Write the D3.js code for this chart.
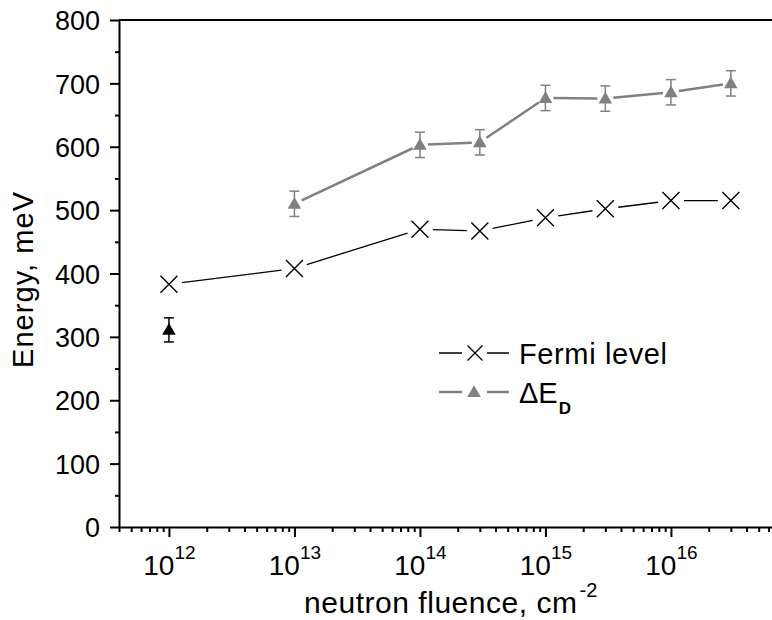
<!DOCTYPE html>
<html>
<head>
<meta charset="utf-8">
<script src="https://cdn.jsdelivr.net/npm/d3@7"></script>
<style>
  body { margin: 0; background: #fff; }
  text { font-family: Arial, "Liberation Sans", sans-serif; fill: #000; }
</style>
</head>
<body>
<div id="chart"></div>
<script>
////////////////////////////////////////////////////////////////////////
// Data

let fermiFluence = [1e12, 1e13, 1e14, 3e14, 1e15, 3e15, 1e16, 3e16];
let fermiLevel   = [383, 408, 470, 467, 488, 502, 515, 515];

let deFluence = [1e13, 1e14, 3e14, 1e15, 3e15, 1e16, 3e16];
let deValue   = [510, 603, 607, 677, 676, 686, 700];
let deError   = [20, 20, 20, 20, 20, 20, 20];

// lone black point at 1e12
let blackFluence = [1e12];
let blackValue   = [311];
let blackError   = [19];

let yTicks = [0, 100, 200, 300, 400, 500, 600, 700, 800];
let xTickExp = [12, 13, 14, 15, 16];

////////////////////////////////////////////////////////////////////////
// Layout

let width = 772, height = 620;
let plotLeft = 119, plotTop = 20, plotBottom = 527;
let decade = 125.5;

let xScale = d3.scaleLog().domain([4e11, 1e17])
  .range([plotLeft, plotLeft + Math.log10(1e17 / 4e11) * decade]);
let yScale = d3.scaleLinear().domain([0, 800]).range([plotBottom, plotTop]);

let svg = d3.select("#chart").append("svg")
  .attr("width", width)
  .attr("height", height);

let grey = "#808080";

////////////////////////////////////////////////////////////////////////
// Axes

// y axis, major + minor ticks
svg.append("g")
  .attr("transform", "translate(" + plotLeft + ",0)")
  .call(d3.axisLeft(yScale).tickValues(yTicks.slice(0, -1).map(d => d + 50))
        .tickSize(4).tickFormat(""))
  .call(g => g.select(".domain").remove())
  .selectAll("line").attr("stroke-width", 2);

let yAxis = svg.append("g")
  .attr("transform", "translate(" + plotLeft + ",0)")
  .call(d3.axisLeft(yScale).tickValues(yTicks).tickSize(9).tickSizeOuter(0).tickPadding(10));
yAxis.select(".domain").attr("stroke-width", 2);
yAxis.selectAll("line").attr("stroke-width", 2);
yAxis.selectAll("text").style("font-size", "27px").attr("dy", "0.36em");

// x axis minor ticks
let minor = [];
for (let e = 11; e <= 16; e++) {
  for (let m = 2; m <= 9; m++) {
    let v = m * Math.pow(10, e);
    if (v >= 4e11 && v <= 1e17) minor.push(v);
  }
}
svg.append("g")
  .attr("transform", "translate(0," + plotBottom + ")")
  .call(d3.axisBottom(xScale).tickValues(minor).tickSize(5).tickFormat(""))
  .call(g => g.select(".domain").remove())
  .selectAll("line").attr("stroke-width", 2);

let xAxis = svg.append("g")
  .attr("transform", "translate(0," + plotBottom + ")")
  .call(d3.axisBottom(xScale).tickValues(xTickExp.map(e => Math.pow(10, e)))
        .tickSize(10).tickSizeOuter(0).tickFormat(""));
xAxis.select(".domain").attr("stroke-width", 2);
xAxis.selectAll("line").attr("stroke-width", 2);

// x tick labels: 10 with superscript exponent
xAxis.selectAll(".tick").data(xTickExp).append("text")
  .attr("y", 48)
  .attr("text-anchor", "middle")
  .attr("fill", "#000")
  .call(t => {
    t.append("tspan").style("font-size", "28px").text("10");
    t.append("tspan").style("font-size", "19px").attr("dy", -16).text(e => e);
  });

// top frame line
svg.append("line")
  .attr("x1", plotLeft).attr("x2", width)
  .attr("y1", plotTop).attr("y2", plotTop)
  .attr("stroke", "#000").attr("stroke-width", 2);

// axis titles
svg.append("text")
  .attr("transform", "translate(33,280) rotate(-90)")
  .attr("text-anchor", "middle")
  .attr("textLength", 176)
  .attr("lengthAdjust", "spacing")
  .style("font-size", "29px")
  .text("Energy, meV");

let xTitle = svg.append("text")
  .attr("x", 304).attr("y", 613)
  .style("font-size", "30px");
xTitle.append("tspan").attr("textLength", 273).attr("lengthAdjust", "spacing")
  .text("neutron fluence, cm");
xTitle.append("tspan").attr("dx", 2).attr("dy", -16).style("font-size", "20px").text("-2");

////////////////////////////////////////////////////////////////////////
// Series helpers

// line segments that stop short of each marker
function gappedLine(xs, ys, gap, color, widthPx) {
  let pts = xs.map((x, i) => [xScale(x), yScale(ys[i])]);
  let segs = [];
  for (let i = 0; i < pts.length - 1; i++) {
    let [x1, y1] = pts[i], [x2, y2] = pts[i + 1];
    let len = Math.hypot(x2 - x1, y2 - y1);
    let ux = (x2 - x1) / len, uy = (y2 - y1) / len;
    segs.push([[x1 + ux * gap, y1 + uy * gap], [x2 - ux * gap, y2 - uy * gap]]);
  }
  svg.append("g").selectAll("path").data(segs).enter().append("path")
    .attr("d", d => d3.line()(d))
    .attr("fill", "none")
    .attr("stroke", color)
    .attr("stroke-width", widthPx);
}

function errorBars(xs, ys, errs, color) {
  let g = svg.append("g").attr("stroke", color).attr("stroke-width", 1.5);
  xs.forEach((x, i) => {
    let cx = xScale(x), y1 = yScale(ys[i] + errs[i]), y2 = yScale(ys[i] - errs[i]);
    g.append("line").attr("x1", cx).attr("x2", cx).attr("y1", y1).attr("y2", y2);
    g.append("line").attr("x1", cx - 5).attr("x2", cx + 5).attr("y1", y1).attr("y2", y1);
    g.append("line").attr("x1", cx - 5).attr("x2", cx + 5).attr("y1", y2).attr("y2", y2);
  });
}

let triangle = d3.symbol().type(d3.symbolTriangle).size(80);

function crossPath(s) {
  return "M" + (-s) + "," + (-s) + "L" + s + "," + s + "M" + (-s) + "," + s + "L" + s + "," + (-s);
}

////////////////////////////////////////////////////////////////////////
// Draw series

// Delta E_D
gappedLine(deFluence, deValue, 8, grey, 2.5);
errorBars(deFluence, deValue, deError, grey);
svg.append("g").selectAll("path").data(deFluence).enter().append("path")
  .attr("transform", (d, i) => "translate(" + xScale(d) + "," + (yScale(deValue[i]) + 1) + ")")
  .attr("d", triangle)
  .attr("fill", grey);

// black point
errorBars(blackFluence, blackValue, blackError, "#000");
svg.append("g").selectAll("path").data(blackFluence).enter().append("path")
  .attr("transform", (d, i) => "translate(" + xScale(d) + "," + (yScale(blackValue[i]) + 1) + ")")
  .attr("d", triangle)
  .attr("fill", "#000");

// Fermi level
gappedLine(fermiFluence, fermiLevel, 13, "#000", 1.3);
svg.append("g").selectAll("path").data(fermiFluence).enter().append("path")
  .attr("transform", (d, i) => "translate(" + xScale(d) + "," + yScale(fermiLevel[i]) + ")")
  .attr("d", crossPath(8.5))
  .attr("fill", "none")
  .attr("stroke", "#000")
  .attr("stroke-width", 1.4);

////////////////////////////////////////////////////////////////////////
// Legend

let legend = svg.append("g");
legend.append("path").attr("d", "M439,353H462M487,353H509")
  .attr("stroke", "#000").attr("stroke-width", 1.3);
legend.append("path").attr("transform", "translate(475,353)").attr("d", crossPath(7.5))
  .attr("fill", "none").attr("stroke", "#000").attr("stroke-width", 1.3);
legend.append("text").attr("x", 519).attr("y", 364)
  .attr("textLength", 148).attr("lengthAdjust", "spacing")
  .style("font-size", "29px").text("Fermi level");

legend.append("path").attr("d", "M439,392H462M487,392H509")
  .attr("stroke", grey).attr("stroke-width", 2.5);
legend.append("path").attr("transform", "translate(474,393)").attr("d", triangle).attr("fill", grey);
let deLabel = legend.append("text").attr("x", 519).attr("y", 403).style("font-size", "29px");
deLabel.append("tspan").text("\u0394E");
deLabel.append("tspan").attr("dx", 1).attr("dy", 11).style("font-size", "17px").style("font-weight", "bold").text("D");
</script>
</body>
</html>
